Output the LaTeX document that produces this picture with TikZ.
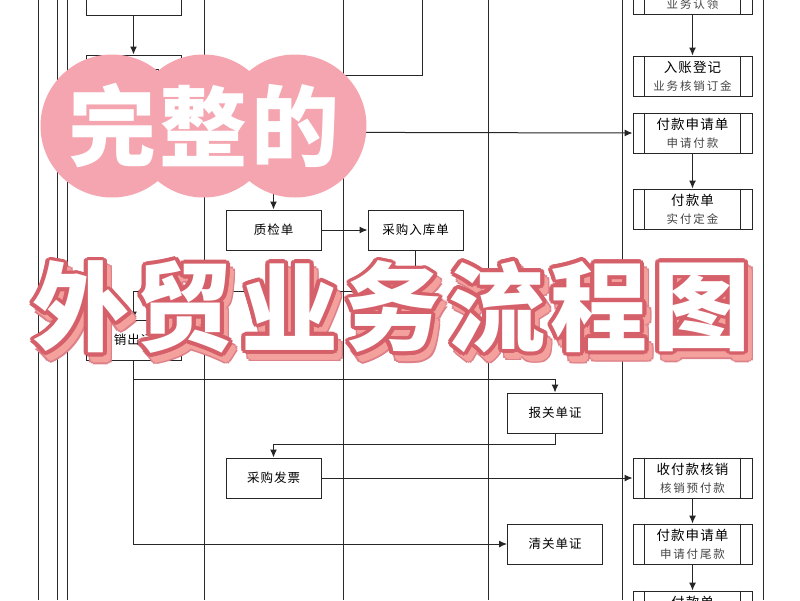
\documentclass[tikz,border=0pt]{standalone}
\usepackage{fontspec}
\setmainfont{Noto Sans CJK SC}
\newfontfamily\boxfont[LetterSpace=8]{Noto Sans CJK SC}
\newfontfamily\subfont[LetterSpace=16]{Noto Sans CJK SC}
\newfontfamily\titlefont{Noto Sans CJK SC}
\usetikzlibrary{arrows.meta}
\definecolor{lane}{HTML}{2A2A2A}
\definecolor{circ}{HTML}{F5A5AF}
\definecolor{tedge}{HTML}{D5606A}
\definecolor{tshadow}{HTML}{F4A19E}
\definecolor{subgray}{HTML}{454545}
\newcommand{\subl}[1]{{\subfont\fontsize{11.5}{18}\selectfont\color{subgray}#1}}
\begin{document}
\begin{tikzpicture}[x=1pt,y=-1pt,
  lanel/.style={draw=lane,line width=1pt},
  flow/.style={draw=black!85,line width=1pt},
  arr/.style={flow,-{Latex[length=8pt,width=7pt]}},
  box/.style={draw=black!85,line width=1pt,fill=white,minimum width=95pt,minimum height=40pt,inner sep=0pt,font=\boxfont\fontsize{12.5}{14}\selectfont,text=black},
  pbox/.style={draw=black!85,line width=1pt,fill=white,minimum width=119pt,minimum height=40pt,inner sep=0pt,align=center,font=\boxfont\fontsize{13.5}{18}\selectfont,text=black},
  bigc/.style={text=white,inner sep=0pt,font=\titlefont\bfseries\fontsize{88}{88}\selectfont},
  tt/.style={inner sep=0pt,font=\titlefont\bfseries\fontsize{97}{97}\selectfont},
]
\useasboundingbox (0,0) rectangle (800,600);
\fill[white] (0,0) rectangle (800,600);
\clip (0,0) rectangle (800,600);

% swim-lane lines
\foreach \x in {38,57,67,204,343,488,622,763} \draw[lanel] (\x,0) -- (\x,600);

% left column
\node[box] (a1) at (133.5,-5) {客户询价单};
\node[box] (a2) at (133.5,75) {外销合同};
\node[box] (a3) at (133.5,132) {采购合同};
\node[box] (ship) at (133.5,340) {外销出运单};

% middle columns
\node[box] (qc) at (273.5,230) {质检单};
\node[box] (pin) at (415.5,230) {采购入库单};
\node[box] (fp) at (273.5,478) {采购发票};
\node[box] (bg) at (555,413) {报关单证};
\node[box] (cg) at (555,544) {清关单证};

% right column (predefined-process boxes)
\node[pbox] (r1) at (692.5,-6) {收款单\\\subl{业务认领}};
\node[pbox] (r2) at (692.5,76) {入账登记\\\subl{业务核销订金}};
\node[pbox] (r3) at (692.5,133) {付款申请单\\\subl{申请付款}};
\node[pbox] (r4) at (692.5,209) {付款单\\\subl{实付定金}};
\node[pbox] (r5) at (692.5,478) {收付款核销\\\subl{核销预付款}};
\node[pbox] (r6) at (692.5,544) {付款申请单\\\subl{申请付尾款}};
\node[pbox] (r7) at (692.5,611) {付款单\\\subl{实付尾款}};
\foreach \n in {r1,r2,r3,r4,r5,r6,r7} {
  \draw[flow] ([xshift=12pt]\n.north west) -- ([xshift=12pt]\n.south west);
  \draw[flow] ([xshift=-12pt]\n.north east) -- ([xshift=-12pt]\n.south east);
}

% connectors
\coordinate (c1) at (422,-5);
\coordinate (j1) at (133.5,379);
\draw[arr] (a1.south) -- (a2.north);
\draw[arr] (c1) |- (a2.east);
\draw[arr] (a2.south) -- (a3.north);
\draw[arr] (a3.east) -- (r3.west);
\draw[arr] (a3.east -| qc.north) -- (qc.north);
\draw[arr] (qc.east) -- (pin.west);
\draw[arr] (pin.south) -- ++(0,41) -| (ship.north);
\draw[arr] (ship.south) |- (cg.west);
\draw[arr] (j1) -| (bg.north);
\draw[arr] (bg.south) -- ++(0,11) -| (fp.north);
\draw[arr] (fp.east) -- (r5.west);
\draw[arr] (r1.south) -- (r2.north);
\draw[arr] (r3.south) -- (r4.north);
\draw[arr] (r5.south) -- (r6.north);
\draw[arr] (r6.south) -- (r7.north);

% pink circles with title
\fill[circ] (112,126) circle[radius=71.5pt];
\fill[circ] (203.5,126) circle[radius=71.5pt];
\fill[circ] (295,126) circle[radius=71.5pt];
\node[bigc] (w1) at (112,126) {完};
\node[bigc] (w2) at (203.5,126) {整};
\node[bigc] (w3) at (295,126) {的};

% big outlined title
\foreach \c/\x [count=\i] in {外/81,贸/185,业/290,务/393,流/497,程/599,图/702} {
  \foreach \a [count=\k] in {0,30,...,330}
    \node[tt,text=tedge!80] (so\i-\k) at ([shift={(\a:4.4)}]\x+5,314) {\c};
  \foreach \a [count=\k] in {0,45,...,315}
    \node[tt,text=tshadow] (sf\i-\k) at ([shift={(\a:2.8)}]\x+5,314) {\c};
  \foreach \a [count=\k] in {0,22.5,...,337.5}
    \node[tt,text=tedge] (o\i-\k) at ([shift={(\a:3.8)}]\x,307) {\c};
  \node[tt,text=white] (f\i) at (\x,307) {\c};
}
\end{tikzpicture}
\end{document}
